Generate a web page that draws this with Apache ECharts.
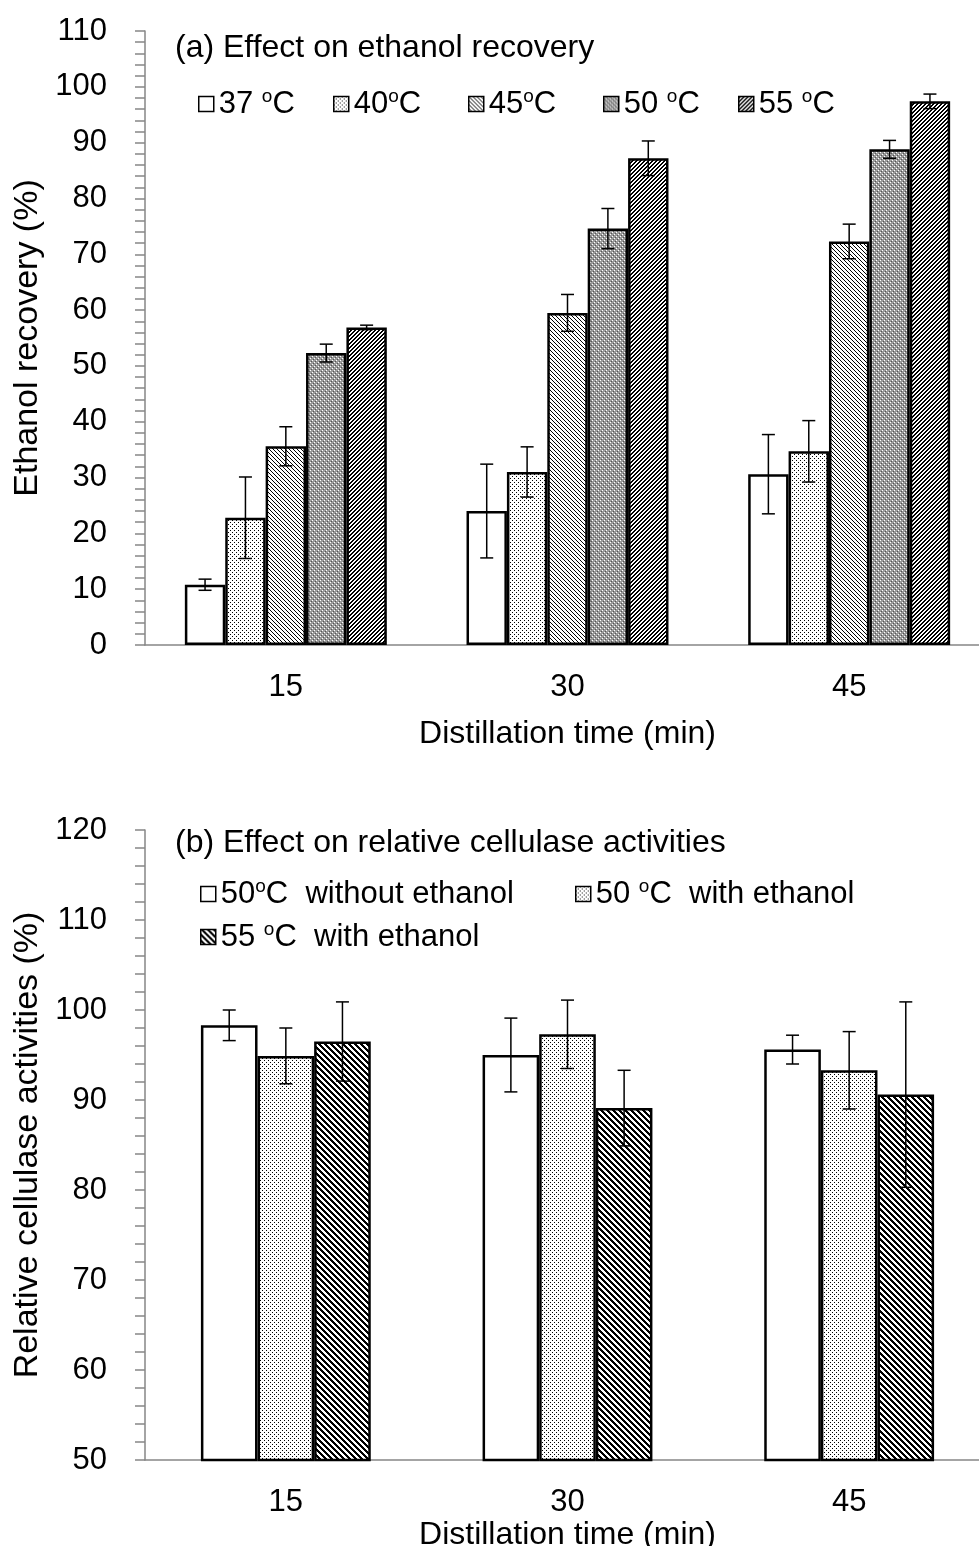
<!DOCTYPE html>
<html>
<head>
<meta charset="utf-8">
<title>Ethanol recovery and cellulase activities</title>
<script src="https://cdn.jsdelivr.net/npm/echarts@6/dist/echarts.min.js"></script>
<style>
    html, body { margin: 0; padding: 0; background: #fff; }
    #main { width: 979px; height: 1546px; }
</style>
</head>
<body>
<div id="main"></div>
<script>
// distillation time (min)
var times = ['15', '30', '45'];

// (a) ethanol recovery (%) and error
var tempNames = ['37 °C', '40°C', '45°C', '50 °C', '55 °C'];
var rec37 = [10.8, 24.0, 30.6];
var rec40 = [22.8, 31.0, 34.7];
var rec45 = [35.6, 59.5, 72.3];
var rec50 = [52.3, 74.6, 88.8];
var rec55 = [56.9, 87.2, 97.4];
var err37 = [1.0, 8.4, 7.1];
var err40 = [7.3, 4.5, 5.5];
var err45 = [3.5, 3.3, 3.1];
var err50 = [1.6, 3.6, 1.6];
var err55 = [0.4, 3.1, 1.3];

// (b) relative cellulase activities (%) and error
var enzNames = ['50°C  without ethanol', '50 °C  with ethanol', '55 °C  with ethanol'];
var act50no = [98.3, 95.0, 95.6];
var act50et = [94.9, 97.3, 93.3];
var act55et = [96.5, 89.1, 90.6];
var errAct50no = [1.7, 4.1, 1.6];
var errAct50et = [3.1, 3.8, 4.3];
var errAct55et = [4.4, 4.2, 10.3];

var FONT = 'Liberation Sans, Arial, sans-serif';

// fill patterns
function tile(w, h, bg, draw) {
    var c = document.createElement('canvas');
    c.width = w; c.height = h;
    var g = c.getContext('2d');
    g.fillStyle = bg;
    g.fillRect(0, 0, w, h);
    g.fillStyle = '#000';
    draw(g, w, h);
    return {image: c, repeat: 'repeat'};
}
var patWhite = '#fff';
var patDots = tile(4, 4, '#fff', function (g) { g.fillRect(0, 0, 1, 1); g.fillRect(2, 2, 1, 1); });
var patThinDown = tile(4, 4, '#fff', function (g) { for (var i = 0; i < 4; i++) g.fillRect(i, i, 1, 1); });
var patGray = tile(4, 4, '#9a9a9a', function (g) {
    g.fillStyle = '#fff'; g.fillRect(0, 0, 1, 1); g.fillRect(2, 2, 1, 1);
    g.fillStyle = '#555'; g.fillRect(1, 3, 1, 1); g.fillRect(3, 1, 1, 1);
});
var patThickUp = tile(4, 4, '#fff', function (g) {
    for (var x = 0; x < 4; x++) for (var y = 0; y < 4; y++) if ((x + y) % 4 < 2) g.fillRect(x, y, 1, 1);
});
var patThickDown = tile(6, 6, '#fff', function (g) {
    for (var x = 0; x < 6; x++) for (var y = 0; y < 6; y++) if (((x - y) % 6 + 6) % 6 < 3) g.fillRect(x, y, 1, 1);
});

function legendText(name) {
    var p = name.split('°');
    return '{n|' + p[0] + '}{s|o}{n|' + p[1] + '}';
}
var legendRich = {
    n: {fontSize: 31, fontFamily: FONT, color: '#000', lineHeight: 34},
    s: {fontSize: 19, fontFamily: FONT, color: '#000', verticalAlign: 'top', lineHeight: 20}
};

function oneLegend(name, left, top) {
    return {
        data: [name], left: left, top: top, padding: 0,
        icon: 'rect', itemWidth: 15, itemHeight: 15,
        itemStyle: {borderColor: '#000', borderWidth: 1.5},
        selectedMode: false,
        formatter: legendText,
        textStyle: {rich: legendRich}
    };
}

function bar(name, values, fill, axis, gap) {
    return {
        name: name, type: 'bar', data: values,
        xAxisIndex: axis, yAxisIndex: axis,
        barGap: '0%', barCategoryGap: gap,
        itemStyle: {color: fill, borderColor: '#000', borderWidth: 2.5},
        emphasis: {disabled: true}
    };
}

// error bars placed over bar k of n in each group
function errBars(values, errs, k, n, gap, axis) {
    return {
        type: 'custom', xAxisIndex: axis, yAxisIndex: axis, z: 10,
        data: values.map(function (v, i) { return [i, v, errs[i]]; }),
        renderItem: function (params, api) {
            var band = api.size([1, 0])[0];
            var bw = band * (1 - gap) / n;
            var dx = (k - (n - 1) / 2) * bw;
            var hi = api.coord([api.value(0), api.value(1) + api.value(2)]);
            var lo = api.coord([api.value(0), api.value(1) - api.value(2)]);
            var x = hi[0] + dx, c = 6.5;
            var st = {stroke: '#000', lineWidth: 1.5};
            return {type: 'group', children: [
                {type: 'line', shape: {x1: x, y1: hi[1], x2: x, y2: lo[1]}, style: st},
                {type: 'line', shape: {x1: x - c, y1: hi[1], x2: x + c, y2: hi[1]}, style: st},
                {type: 'line', shape: {x1: x - c, y1: lo[1], x2: x + c, y2: lo[1]}, style: st}
            ]};
        }
    };
}

function xAxis(grid, nameGap) {
    return {
        type: 'category', data: times, gridIndex: grid,
        axisLine: {lineStyle: {color: '#868686', width: 1.5}},
        axisTick: {show: false},
        axisLabel: {fontSize: 31, fontFamily: FONT, color: '#000', margin: 27},
        name: 'Distillation time (min)', nameLocation: 'middle', nameGap: nameGap,
        nameTextStyle: {fontSize: 32, fontFamily: FONT, color: '#000'}
    };
}
function yAxis(grid, min, max, name, nameGap) {
    return {
        type: 'value', gridIndex: grid, min: min, max: max, interval: 10,
        splitLine: {show: false},
        axisLine: {show: true, lineStyle: {color: '#868686', width: 1.5}},
        axisTick: {show: true, length: 10, lineStyle: {color: '#868686', width: 1.5}},
        minorTick: {show: true, splitNumber: 5, length: 10, lineStyle: {color: '#868686', width: 1.5}},
        axisLabel: {fontSize: 31, fontFamily: FONT, color: '#000', margin: 38},
        name: name, nameLocation: 'middle', nameGap: nameGap,
        nameTextStyle: {fontSize: 34, fontFamily: FONT, color: '#000'}
    };
}

var gapA = 0.283, gapB = 0.397;
var recVals = [rec37, rec40, rec45, rec50, rec55];
var recErrs = [err37, err40, err45, err50, err55];
var recFills = [patWhite, patDots, patThinDown, patGray, patThickUp];
var actVals = [act50no, act50et, act55et];
var actErrs = [errAct50no, errAct50et, errAct55et];
var actFills = [patWhite, patDots, patThickDown];

var series = [];
recVals.forEach(function (v, k) { series.push(bar(tempNames[k], v, recFills[k], 0, (gapA * 100) + '%')); });
recVals.forEach(function (v, k) { series.push(errBars(v, recErrs[k], k, 5, gapA, 0)); });
actVals.forEach(function (v, k) { series.push(bar(enzNames[k], v, actFills[k], 1, (gapB * 100) + '%')); });
actVals.forEach(function (v, k) { series.push(errBars(v, actErrs[k], k, 3, gapB, 1)); });

var myChart = echarts.init(document.getElementById('main'), null, {renderer: 'canvas'});
var option = {
    backgroundColor: '#fff',
    animation: false,
    title: [
        {text: '(a) Effect on ethanol recovery', left: 170, top: 27,
            textStyle: {fontSize: 32, fontWeight: 'normal', fontFamily: FONT, color: '#000'}},
        {text: '(b) Effect on relative cellulase activities', left: 170, top: 822,
            textStyle: {fontSize: 32, fontWeight: 'normal', fontFamily: FONT, color: '#000'}}
    ],
    legend: [
        oneLegend(tempNames[0], 198, 87),
        oneLegend(tempNames[1], 333, 87),
        oneLegend(tempNames[2], 468, 87),
        oneLegend(tempNames[3], 603, 87),
        oneLegend(tempNames[4], 738, 87),
        oneLegend(enzNames[0], 200, 877),
        oneLegend(enzNames[1], 575, 877),
        oneLegend(enzNames[2], 200, 920)
    ],
    grid: [
        {left: 145, top: 31, width: 845, height: 614, outerBoundsMode: 'none'},
        {left: 145, top: 830, width: 845, height: 630, outerBoundsMode: 'none'}
    ],
    xAxis: [xAxis(0, 73), xAxis(1, 51)],
    yAxis: [
        yAxis(0, 0, 110, 'Ethanol recovery (%)', 100),
        yAxis(1, 50, 120, 'Relative cellulase activities (%)', 100)
    ],
    series: series
};
myChart.setOption(option);
</script>
</body>
</html>
